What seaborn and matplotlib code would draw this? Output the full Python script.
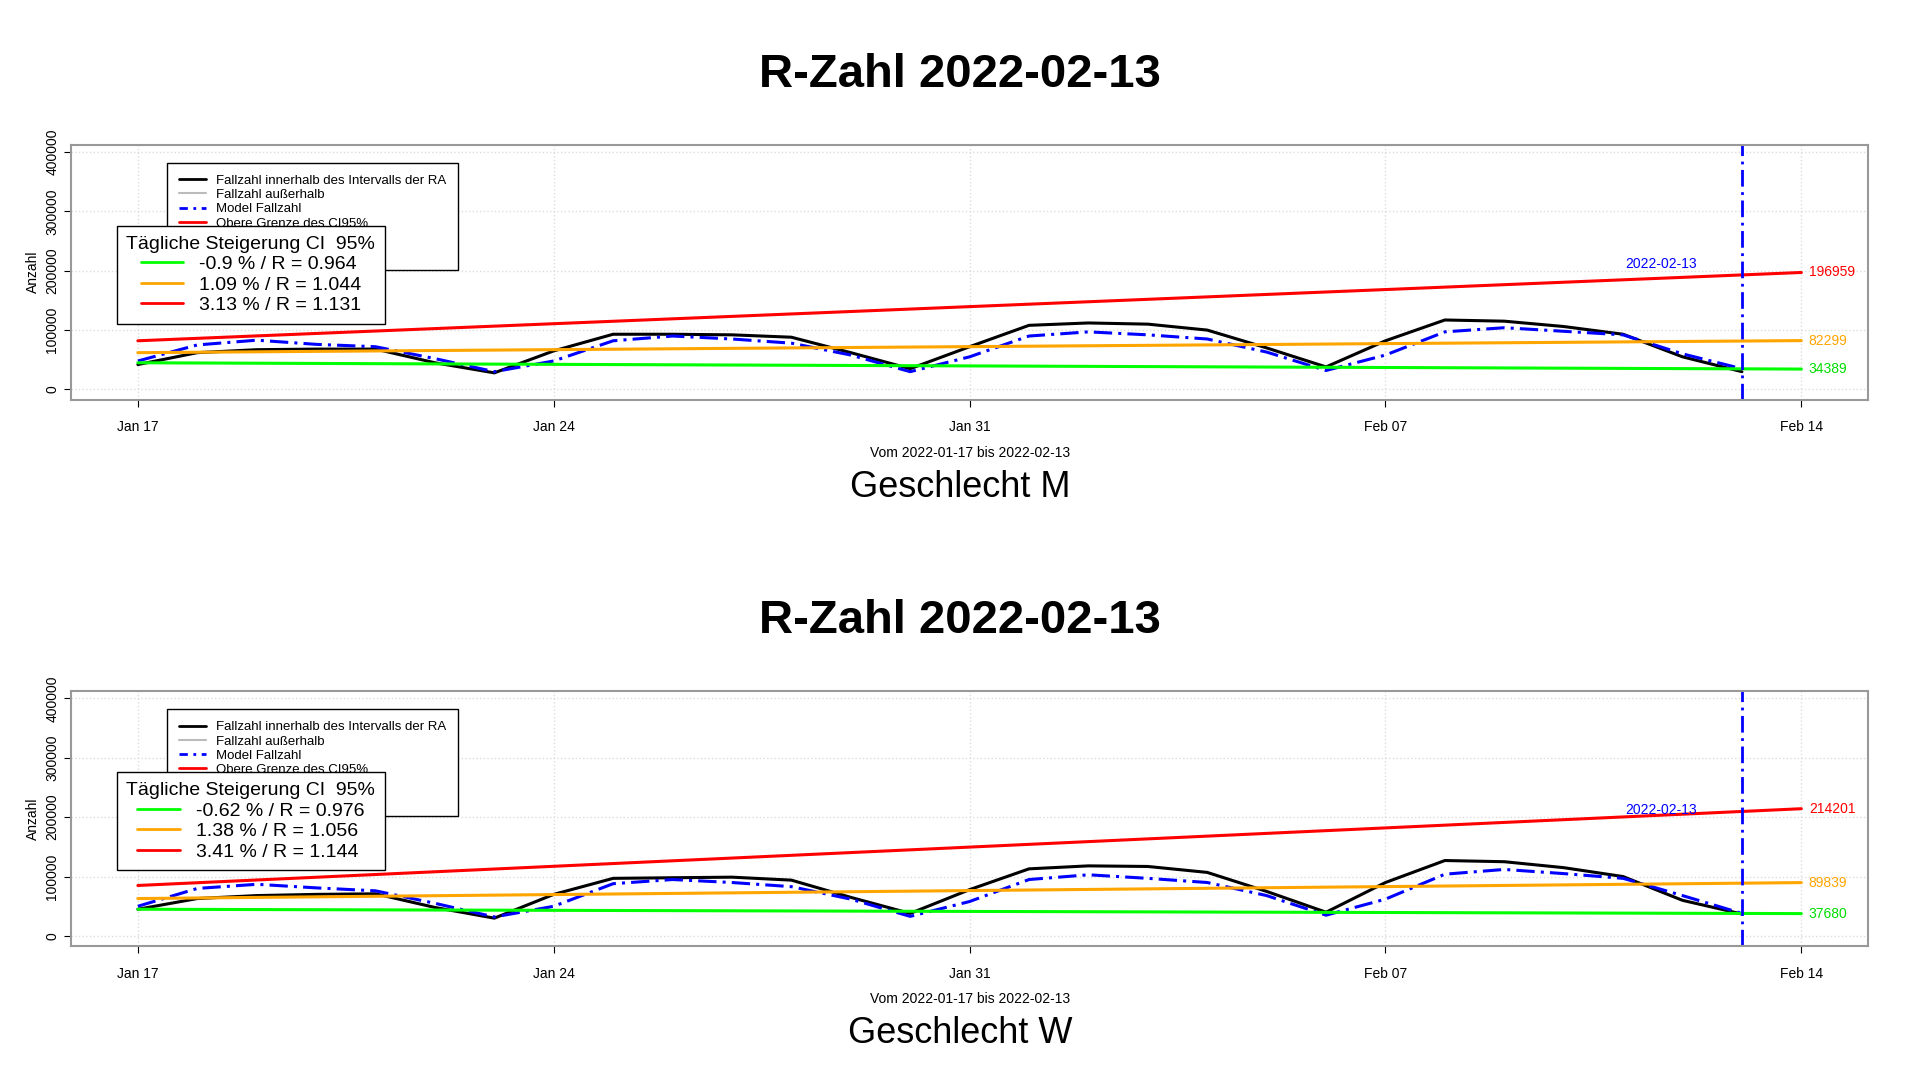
import numpy as np
import pandas as pd
import seaborn as sns
import matplotlib.pyplot as plt
import matplotlib.dates as mdates
from matplotlib.lines import Line2D

dates = pd.date_range("2022-01-17", "2022-02-13")
end_date = pd.Timestamp("2022-02-14")

m_fall = [42, 62, 67, 68, 68, 45, 28, 65, 93, 93, 92, 88, 62, 35, 72, 108, 112, 110, 100, 70, 38, 82, 117, 115, 106, 93, 55, 30]
m_model = [48, 75, 83, 76, 72, 52, 30, 48, 82, 90, 85, 78, 58, 30, 55, 90, 97, 92, 85, 63, 32, 58, 97, 104, 98, 92, 60, 35]
w_fall = [45, 63, 68, 70, 71, 48, 30, 70, 97, 98, 99, 94, 65, 38, 78, 113, 118, 117, 107, 75, 40, 90, 127, 125, 115, 100, 60, 37]
w_model = [50, 80, 87, 81, 76, 55, 32, 50, 88, 95, 90, 83, 62, 33, 58, 95, 103, 97, 90, 68, 35, 62, 104, 112, 105, 97, 68, 38]

# trend lines: start value (Jan 17), end value (Feb 14)
m_trend = {"red": (82000, 196959), "orange": (62000, 82299), "lime": (45000, 34389)}
w_trend = {"red": (85000, 214201), "orange": (63000, 89839), "lime": (45000, 37680)}
m_ci = ["-0.9 % / R = 0.964", "1.09 % / R = 1.044", "3.13 % / R = 1.131"]
w_ci = ["-0.62 % / R = 0.976", "1.38 % / R = 1.056", "3.41 % / R = 1.144"]

sns.set_style("white")
plt.rcParams['font.family'] = ['Liberation Sans', 'DejaVu Sans']
plt.rcParams['text.color'] = 'black'
plt.rcParams['axes.labelcolor'] = 'black'
plt.rcParams['xtick.color'] = 'black'
plt.rcParams['ytick.color'] = 'black'

fig = plt.figure(figsize=(19.2, 10.8), dpi=100)


def panel(top, fall, model, trend, ci, label):
    ax = fig.add_axes([0.037, top - 0.236, 0.936, 0.236])
    df = pd.DataFrame({"date": dates, "fall": np.array(fall) * 1000, "model": np.array(model) * 1000})
    sns.lineplot(data=df, x="date", y="fall", ax=ax, color="black", lw=2.2)
    sns.lineplot(data=df, x="date", y="model", ax=ax, color="blue", lw=2.2, linestyle=(0, (6, 2, 1, 2)))
    for col, (a, b) in trend.items():
        ax.plot([dates[0], end_date], [a, b], color=col, lw=2.2)
        ax.text(end_date + pd.Timedelta(hours=3), b, str(b), color=col if col != "lime" else "#00dd00",
                fontsize=10, va="center", ha="left")
    ax.axvline(dates[-1], color="blue", lw=2, linestyle=(0, (6, 2, 1, 2)))
    ax.text(dates[-1] - pd.Timedelta(hours=18), 200000, "2022-02-13", color="blue", fontsize=10,
            ha="right", va="bottom")
    ax.set_xlim(dates[0] - pd.Timedelta(hours=27), end_date + pd.Timedelta(hours=27))
    ax.set_ylim(-17000, 412000)
    ax.set_yticks([0, 100000, 200000, 300000, 400000])
    ax.set_yticklabels(["0", "100000", "200000", "300000", "400000"], rotation=90, va="center", fontsize=10)
    ax.set_xticks(pd.to_datetime(["2022-01-17", "2022-01-24", "2022-01-31", "2022-02-07", "2022-02-14"]))
    ax.xaxis.set_major_formatter(mdates.DateFormatter("%b %d"))
    ax.tick_params(axis="x", labelsize=10, length=5, pad=10, bottom=True)
    ax.tick_params(axis="y", length=5, left=True)
    ax.grid(True, color="#dddddd", linestyle=":", lw=1)
    for s in ax.spines.values():
        s.set_color("#999999")
        s.set_linewidth(1.5)
    ax.set_xlabel("Vom 2022-01-17 bis 2022-02-13", fontsize=10, labelpad=8)
    ax.set_ylabel("Anzahl", fontsize=10)

    h1 = [Line2D([], [], color="black", lw=2), Line2D([], [], color="#bbbbbb", lw=1.5),
          Line2D([], [], color="blue", lw=2, linestyle=(0, (3, 2, 1, 2))),
          Line2D([], [], color="red", lw=2), Line2D([], [], color="orange", lw=2),
          Line2D([], [], color="lime", lw=2)]
    l1 = ax.legend(h1, ["Fallzahl innerhalb des Intervalls der RA", "Fallzahl außerhalb", "Model Fallzahl",
                        "Obere Grenze des CI95%", "Mittlere Steigerung", "Untere Grenze des CI95%"],
                   loc="upper left", bbox_to_anchor=(0.05, 0.955), fontsize=9.5, fancybox=False,
                   edgecolor="black", framealpha=1, handlelength=2, labelspacing=0.15, borderpad=0.9)
    ax.add_artist(l1)
    h2 = [Line2D([], [], color=c, lw=2) for c in ["lime", "orange", "red"]]
    l2 = ax.legend(h2, ci, title="Tägliche Steigerung CI  95%", title_fontsize=14, fontsize=14,
                   loc="upper left", bbox_to_anchor=(0.02, 0.72), fancybox=False, edgecolor="black",
                   framealpha=1, handlelength=2.2, labelspacing=0.15, borderpad=0.5)
    l2.get_title().set_color("black")
    l2.set_zorder(10)

    fig.text(0.5, top + 0.065, "R-Zahl 2022-02-13", fontsize=34, fontweight="bold", ha="center", va="center")
    fig.text(0.5, top - 0.317, label, fontsize=26, ha="center", va="center")


panel(0.866, m_fall, m_model, m_trend, m_ci, "Geschlecht M")
panel(0.360, w_fall, w_model, w_trend, w_ci, "Geschlecht W")

fig.savefig("out.png", dpi=100)
